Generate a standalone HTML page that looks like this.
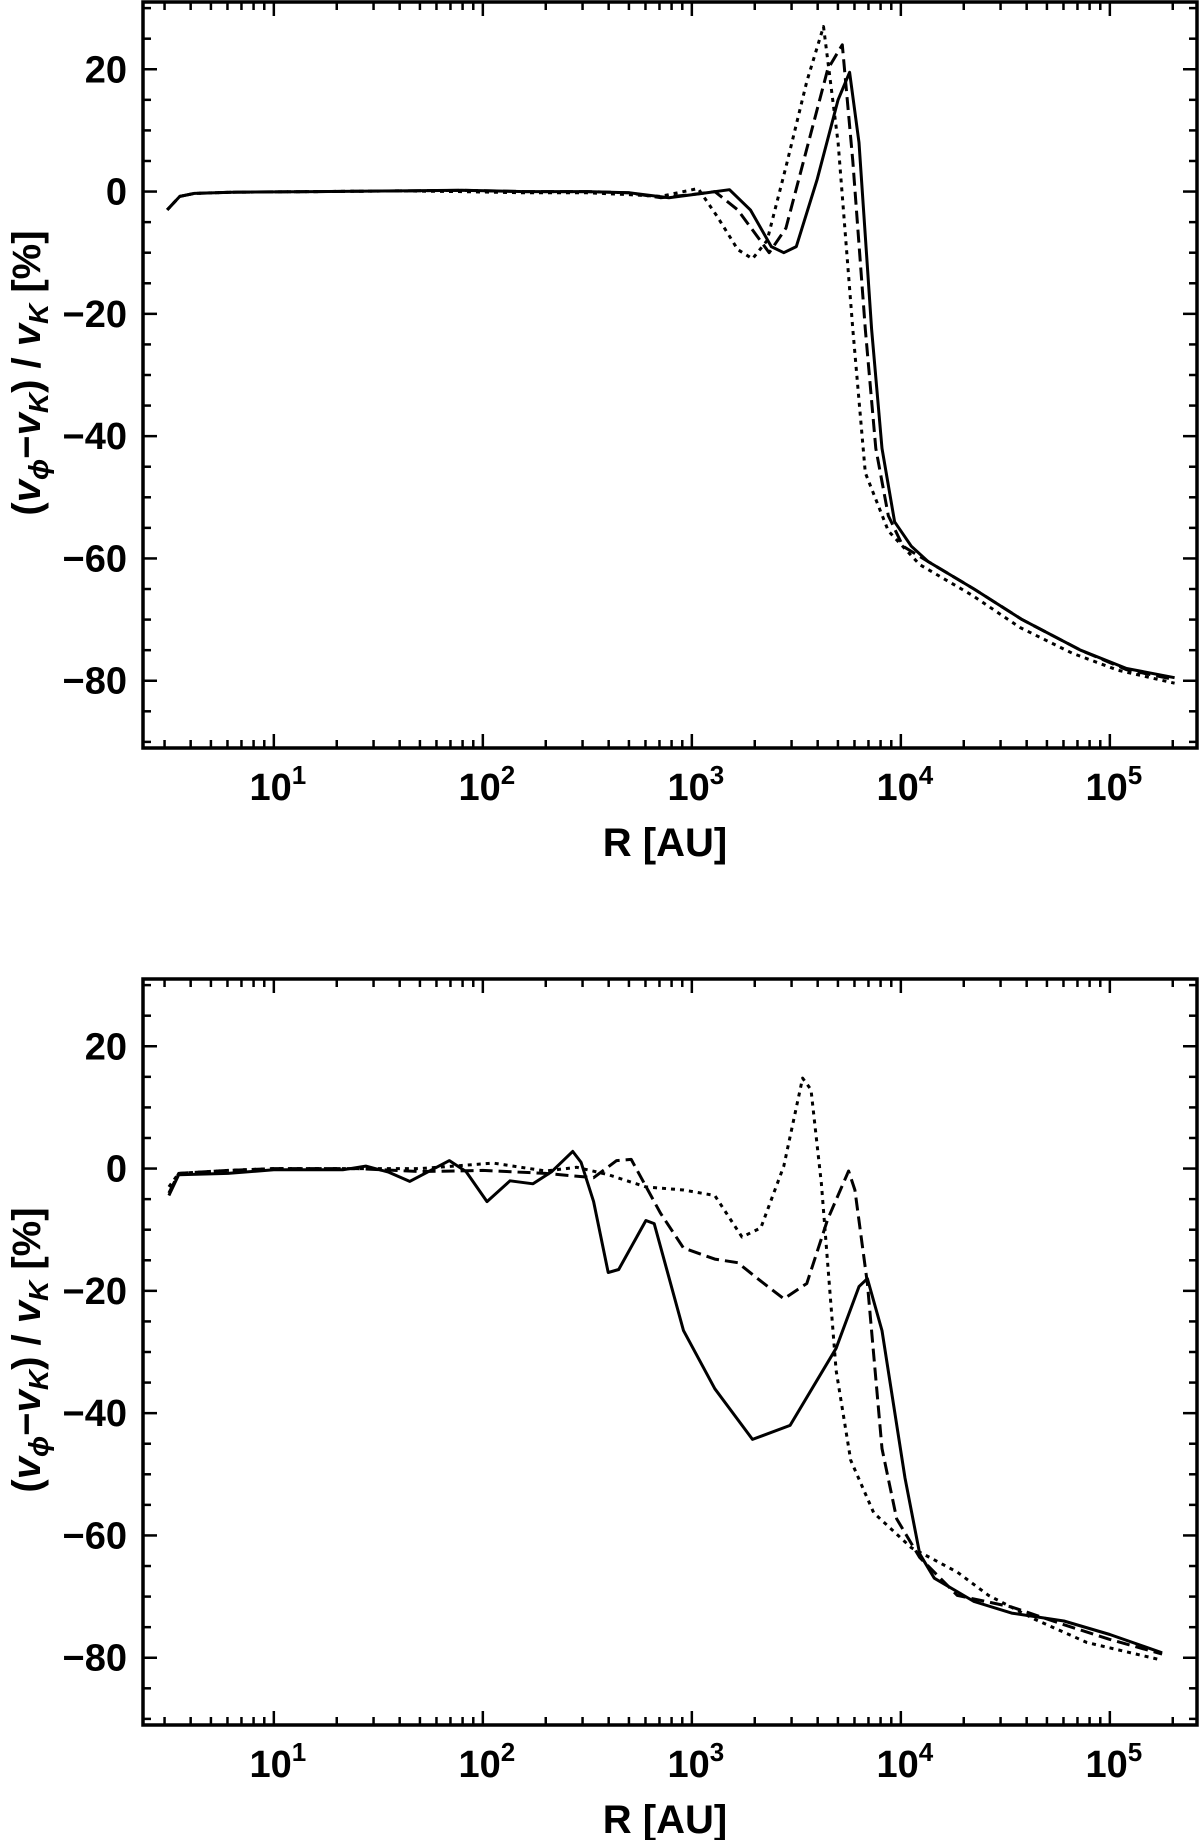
<!DOCTYPE html>
<html><head><meta charset="utf-8"><style>
html,body{margin:0;padding:0;background:#fff;}
svg{display:block;}
text{font-family:"Liberation Sans Narrow","Liberation Sans",sans-serif;font-weight:bold;fill:#000;}
</style></head><body>
<svg id="fig" width="1200" height="1840" viewBox="0 0 1200 1840" xmlns="http://www.w3.org/2000/svg"></svg>
<script>
// ---------- data (log10 R, value %) ----------
const topSolidX=[0.49,0.55,0.62,0.8,1.2,1.6,1.9,2.2,2.5,2.7,2.89,3.05,3.18,3.28,3.38,3.44,3.5,3.6,3.7,3.755,3.8,3.86,3.91,3.97,4.05,4.13,4.35,4.58,4.86,5.08,5.31];
const topSolidY=[-3,-0.8,-0.3,-0.1,0,0.1,0.2,0,0,-0.2,-1,-0.3,0.3,-3,-9,-10,-9,2,15,19.5,8,-22.5,-42,-54,-58,-60.5,-65,-70,-75,-78,-79.5];
const topDashX=[0.49,0.55,0.62,0.8,1.2,1.6,1.9,2.2,2.5,2.7,2.85,3.0,3.11,3.22,3.37,3.45,3.55,3.65,3.72,3.77,3.83,3.88,3.94,4.01,4.13,4.35,4.58,4.86,5.08,5.31];
const topDashY=[-3,-0.8,-0.3,-0.1,0,0.1,0.2,0,0,-0.2,-1,-0.5,0,-3,-10,-6,7,20,24,5,-22.5,-42,-53,-58,-60.5,-65,-70,-75,-78.2,-79.8];
const topDotX=[0.49,0.55,0.62,0.8,1.2,1.6,1.9,2.2,2.5,2.7,2.85,3.03,3.12,3.22,3.29,3.36,3.45,3.55,3.63,3.7,3.77,3.83,3.94,4.09,4.34,4.57,4.82,5.04,5.31];
const topDotY=[-3,-0.8,-0.3,-0.1,0,0.1,0,-0.2,-0.2,-0.5,-0.8,0.5,-4,-9.5,-11,-8,4,18,27,8,-22.5,-46,-55.5,-61,-66,-71.3,-75.5,-78.3,-80.4];
const botSolidX=[0.498,0.545,0.78,1.0,1.33,1.44,1.55,1.65,1.84,1.92,2.02,2.13,2.24,2.33,2.43,2.47,2.53,2.6,2.65,2.78,2.82,2.96,3.11,3.29,3.47,3.69,3.8,3.84,3.91,4.02,4.09,4.16,4.35,4.53,4.78,5.0,5.25];
const botSolidY=[-4.4,-1,-0.8,-0.2,-0.2,0.4,-0.6,-2.1,1.3,-0.5,-5.4,-2,-2.5,-0.5,2.8,1,-5.4,-17,-16.5,-8.5,-9,-26.5,-36,-44.3,-42,-29.4,-19.3,-18,-26.5,-50.6,-63,-67,-70.8,-72.7,-74,-76.2,-79.2];
const botDashX=[0.498,0.545,0.78,1.0,1.4,1.7,2.0,2.3,2.53,2.64,2.71,2.85,2.96,3.11,3.22,3.33,3.44,3.55,3.65,3.75,3.78,3.84,3.91,3.98,4.09,4.27,4.53,4.78,5.0,5.25];
const botDashY=[-4,-0.8,-0.3,0,0,-0.5,-0.3,-0.8,-1.5,1.3,1.5,-7.3,-13,-14.8,-15.4,-18.4,-21.3,-18.8,-8.3,-0.4,-3.5,-18.8,-45.8,-57.3,-63.6,-69.8,-71.7,-74.6,-77,-79.4];
const botDotX=[0.498,0.545,0.78,1.0,1.4,1.7,2.05,2.3,2.45,2.6,2.78,2.96,3.11,3.24,3.33,3.44,3.53,3.57,3.62,3.69,3.76,3.87,4.05,4.27,4.42,4.64,4.89,5.25];
const botDotY=[-3,-0.8,-0.3,0,0,0,0.9,-0.4,0.2,-1,-3,-3.5,-4.4,-11.2,-9.7,0.4,14.8,12.9,-2.5,-33,-47.7,-56.3,-62,-66,-69.8,-73.7,-77.5,-80.4];
const yTicks=[20,0,-20,-40,-60,-80];
const xDecades=[1,2,3,4,5];

// ---------- layout ----------
const NS="http://www.w3.org/2000/svg";
const svg=document.getElementById('fig');
const L=143,R=1197,LOGMIN=0.374,LOGMAX=5.417;
const YMIN=-91,YMAX=31;
function mk(tag,attrs,parent){const e=document.createElementNS(NS,tag);for(const k in attrs)e.setAttribute(k,attrs[k]);(parent||svg).appendChild(e);return e;}
function panel(id,top,bottom,series){
  const g=mk('g',{});
  
  
  const xs=v=>L+(v-LOGMIN)/(LOGMAX-LOGMIN)*(R-L);
  const ys=v=>bottom-(v-YMIN)/(YMAX-YMIN)*(bottom-top);
  const clipId=id+'-clip';
  const cp=mk('clipPath',{id:clipId},g);mk('rect',{x:L,y:top,width:R-L,height:bottom-top},cp);
  // ticks
  const tk=mk('g',{stroke:'#000','stroke-width':2.5},g);
  
  
  for(let v=-90;v<=30;v+=5){const major=v%20===0;const len=major?14:8;const y=ys(v);
    mk('line',{x1:L,y1:y,x2:L+len,y2:y},tk);mk('line',{x1:R,y1:y,x2:R-len,y2:y},tk);}
  for(let d=0;d<=5;d++)for(let m=1;m<=9;m++){const lv=d+Math.log10(m);if(lv<LOGMIN||lv>LOGMAX)continue;
    const major=m===1;const len=major?14:8;const x=xs(lv);
    mk('line',{x1:x,y1:bottom,x2:x,y2:bottom-len},tk);mk('line',{x1:x,y1:top,x2:x,y2:top+len},tk);}
  // y labels
  yTicks.forEach(v=>{const t=mk('text',{x:L-16,y:ys(v)+13,'text-anchor':'end','font-size':38},g);
    t.textContent=(v<0?'\u2212':'')+Math.abs(v);
    
    });
  xDecades.forEach(d=>{const t=mk('text',{x:xs(d)+4,y:bottom+52,'text-anchor':'middle','font-size':38},g);
    
    
    const a=mk('tspan',{},t);a.textContent='10';const b=mk('tspan',{dy:-16,'font-size':26},t);b.textContent=String(d);});
  const xt=mk('text',{x:(L+R)/2-5,y:bottom+108,'text-anchor':'middle','font-size':40},g);
  xt.textContent='R [AU]';
  
  
  const cy=(top+bottom)/2-2;
  const yt=mk('text',{x:0,y:0,'text-anchor':'middle','font-size':40,transform:`translate(40,${cy}) rotate(-90)`},g);
  
  
  yt.innerHTML='(<tspan font-style="italic">v</tspan><tspan font-style="italic" font-size="28" dy="8">\u03d5</tspan><tspan dy="-8">\u2212</tspan><tspan font-style="italic">v</tspan><tspan font-style="italic" font-size="28" dy="8">K</tspan><tspan dy="-8">) / </tspan><tspan font-style="italic">v</tspan><tspan font-style="italic" font-size="28" dy="8">K</tspan><tspan dy="-8">  [%]</tspan>';
  // series
  series.forEach(s=>{let d='';s.x.forEach((lv,i)=>{d+=(i?'L':'M')+xs(lv).toFixed(1)+','+ys(s.y[i]).toFixed(1);});
    const p=mk('path',{d:d,fill:'none',stroke:'#000','stroke-width':3,'stroke-linejoin':'round','clip-path':`url(#${clipId})`},g);
    if(s.dash)p.setAttribute('stroke-dasharray',s.dash);
    
    });
  const fr=mk('rect',{x:L,y:top,width:R-L,height:bottom-top,fill:'none',stroke:'#000','stroke-width':3.5},g);
  
  
}
panel('top-panel',2,748,[
  {x:topDotX,y:topDotY,dash:'4 5',name:'dotted-series'},
  {x:topDashX,y:topDashY,dash:'13 6',name:'dashed-series'},
  {x:topSolidX,y:topSolidY,dash:null,name:'solid-series'}]);
panel('bottom-panel',979,1725,[
  {x:botDotX,y:botDotY,dash:'4 5',name:'dotted-series'},
  {x:botDashX,y:botDashY,dash:'13 6',name:'dashed-series'},
  {x:botSolidX,y:botSolidY,dash:null,name:'solid-series'}]);
</script>
</body></html>
